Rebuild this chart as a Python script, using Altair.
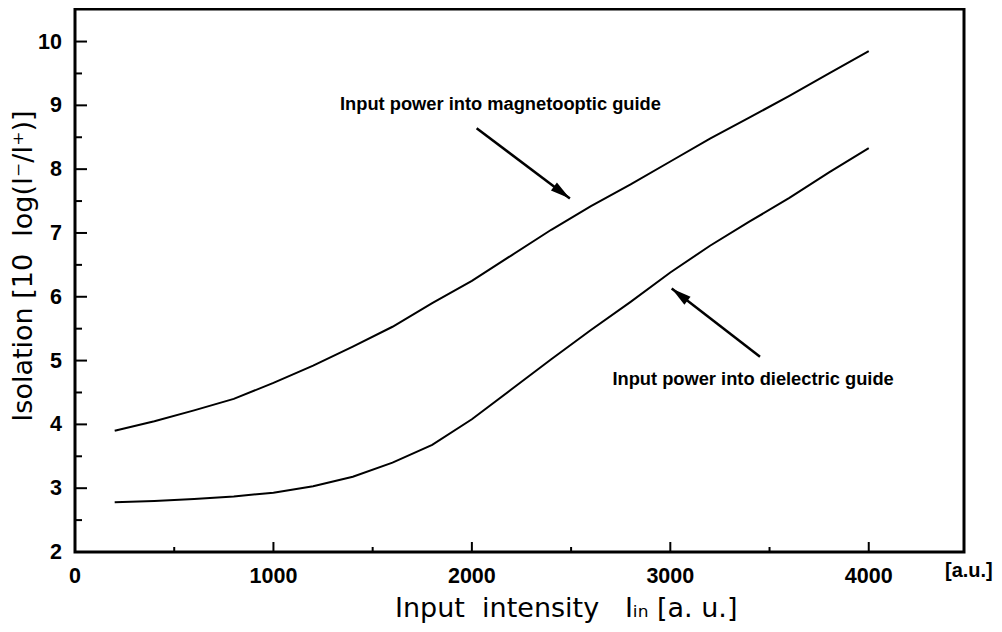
import altair as alt
import pandas as pd

# ---- data ----
intensity = [200, 400, 600, 800, 1000, 1200, 1400, 1600, 1800, 2000,
             2200, 2400, 2600, 2800, 3000, 3200, 3400, 3600, 3800, 4000]
magnetooptic = [3.90, 4.05, 4.22, 4.40, 4.65, 4.92, 5.22, 5.53, 5.90, 6.25,
                6.65, 7.05, 7.42, 7.76, 8.12, 8.48, 8.81, 9.15, 9.50, 9.85]
dielectric = [2.78, 2.80, 2.83, 2.87, 2.93, 3.03, 3.18, 3.40, 3.68, 4.08,
              4.55, 5.02, 5.48, 5.92, 6.38, 6.80, 7.18, 7.55, 7.95, 8.33]

x_label_values = [0, 1000, 2000, 3000, 4000]
y_label_values = [2, 3, 4, 5, 6, 7, 8, 9, 10]
x_major_ticks = [1000, 2000, 3000, 4000]
x_minor_ticks = [500, 1500, 2500, 3500]
y_major_ticks = [3, 4, 5, 6, 7, 8, 9, 10]
y_minor_ticks = [2.5, 3.5, 4.5, 5.5, 6.5, 7.5, 8.5, 9.5]

ann_texts = ["Input power into magnetooptic guide", "Input power into dielectric guide"]
ann_x = [2144, 3417]
ann_y = [9.00, 4.69]
arrow_x0 = [2024, 3452]
arrow_y0 = [8.64, 5.06]
arrow_x1 = [2494, 3007]
arrow_y1 = [7.54, 6.13]

x_domain = [0, 4480]
y_domain = [2, 10.51]

W, H = 889, 543

curves = pd.DataFrame({
    "x": intensity * 2,
    "y": magnetooptic + dielectric,
    "series": ["magnetooptic"] * len(intensity) + ["dielectric"] * len(intensity),
})

xs = alt.Scale(domain=x_domain, nice=False, zero=False)
ys = alt.Scale(domain=y_domain, nice=False, zero=False)

label_font = "Liberation Sans"
title_font = "DejaVu Sans"

lines = alt.Chart(curves).mark_line(color="black", strokeWidth=2).encode(
    x=alt.X("x:Q", scale=xs, axis=None),
    y=alt.Y("y:Q", scale=ys, axis=None),
    detail="series:N",
)

xlab = alt.Chart(pd.DataFrame({"v": x_label_values})).mark_text(
    font=label_font, fontSize=21.5, fontWeight="bold", color="black",
    align="center", baseline="alphabetic").encode(
    x=alt.X("v:Q", scale=xs, axis=None), y=alt.value(H + 31), text=alt.Text("v:Q", format="d"))

ylab = alt.Chart(pd.DataFrame({"v": y_label_values})).mark_text(
    font=label_font, fontSize=21.5, fontWeight="bold", color="black",
    align="right", baseline="middle", dy=1).encode(
    y=alt.Y("v:Q", scale=ys, axis=None), x=alt.value(-13), text=alt.Text("v:Q", format="d"))

def xtick_layer(vals, length):
    df = pd.DataFrame({"v": vals})
    return alt.Chart(df).mark_rule(color="black", strokeWidth=2).encode(
        x=alt.X("v:Q", scale=xs, axis=None),
        y=alt.value(H), y2=alt.value(H - length))

def ytick_layer(vals, length):
    df = pd.DataFrame({"v": vals})
    return alt.Chart(df).mark_rule(color="black", strokeWidth=2).encode(
        y=alt.Y("v:Q", scale=ys, axis=None),
        x=alt.value(0), x2=alt.value(length))

ann_df = pd.DataFrame({"t": ann_texts, "x": ann_x, "y": ann_y})
annotations = alt.Chart(ann_df).mark_text(
    font=label_font, fontSize=18.3, fontWeight="bold", color="black",
    align="center", baseline="middle").encode(
    x=alt.X("x:Q", scale=xs, axis=None),
    y=alt.Y("y:Q", scale=ys, axis=None),
    text="t:N")

arrow_df = pd.DataFrame({"x0": arrow_x0, "y0": arrow_y0, "x1": arrow_x1, "y1": arrow_y1})
arrow_lines = alt.Chart(arrow_df).mark_rule(color="black", strokeWidth=2.5).encode(
    x=alt.X("x0:Q", scale=xs, axis=None), y=alt.Y("y0:Q", scale=ys, axis=None),
    x2="x1:Q", y2="y1:Q")

head_shape = "M0,0L-2,-0.5L-2,0.5Z"
head_angles = [37, 218]
heads = []
for i, ang in enumerate(head_angles):
    d = pd.DataFrame({"x": [arrow_x1[i]], "y": [arrow_y1[i]]})
    heads.append(alt.Chart(d).mark_point(
        shape=head_shape, size=400, filled=True, color="black", opacity=1,
        angle=ang, strokeWidth=0).encode(
        x=alt.X("x:Q", scale=xs, axis=None), y=alt.Y("y:Q", scale=ys, axis=None)))

ytitle = alt.Chart(pd.DataFrame({"t": ["Isolation\u00a0[10\u00a0\u00a0log(I\u207b/I\u207a)]"]})).mark_text(
    font=title_font, fontSize=27, color="black", angle=270,
    align="center", baseline="alphabetic").encode(
    x=alt.value(-43), y=alt.value(257), text="t:N")

xtitle = alt.Chart(pd.DataFrame({"t": ["Input\u00a0\u00a0intensity\u00a0\u00a0\u00a0I\u1d62\u2099\u00a0[a.\u00a0u.]"]})).mark_text(
    font=title_font, fontSize=27, color="black",
    align="left", baseline="alphabetic").encode(
    x=alt.value(320), y=alt.value(608), text="t:N")

unit = alt.Chart(pd.DataFrame({"t": ["[a.u.]"]})).mark_text(
    font=label_font, fontSize=20, fontWeight="bold", color="black",
    align="left", baseline="alphabetic").encode(
    x=alt.value(870), y=alt.value(568), text="t:N")

chart = alt.layer(
    lines,
    xtick_layer(x_major_ticks, 10), xtick_layer(x_minor_ticks, 5),
    ytick_layer(y_major_ticks, 12), ytick_layer(y_minor_ticks, 7),
    xlab, ylab,
    arrow_lines, *heads, annotations, ytitle, xtitle, unit,
).properties(
    width=W, height=H,
    background="white",
    autosize=alt.AutoSizeParams(type="none"),
    padding={"left": 67, "top": 1, "right": 30, "bottom": 72},
).configure_view(stroke="black", strokeWidth=3)

chart.save("out.html", embed_options={"renderer": "svg", "actions": False})
